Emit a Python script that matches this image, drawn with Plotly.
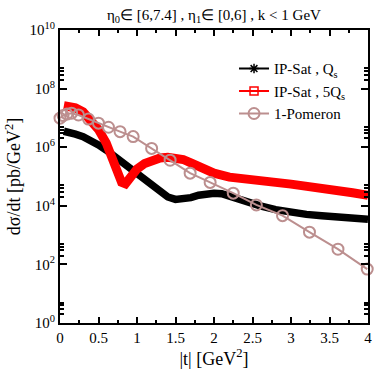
import plotly.graph_objects as go

# IP-Sat, Qs (black)
t_qs = [0.05, 0.1, 0.2, 0.3, 0.4, 0.5, 0.6, 0.7, 0.8, 0.9, 1.0, 1.1, 1.2, 1.3, 1.4, 1.5,
        1.6, 1.7, 1.8, 1.9, 2.0, 2.1, 2.2, 2.3, 2.4, 2.5, 2.6, 2.8, 3.0, 3.2, 3.4, 3.6, 3.8, 4.0]
y_qs = [3.5e6, 3.4e6, 2.8e6, 2.3e6, 1.75e6, 1.2e6, 8.0e5, 5.0e5, 3.2e5, 1.9e5, 1.1e5, 7.0e4,
        4.5e4, 2.8e4, 2.0e4, 1.65e4, 1.65e4, 1.9e4, 2.3e4, 2.6e4, 2.7e4, 2.6e4, 2.1e4, 1.65e4,
        1.35e4, 1.15e4, 1.0e4, 7.4e3, 5.9e3, 5.1e3, 4.6e3, 4.2e3, 3.8e3, 3.5e3]

# IP-Sat, 5Qs (red)
t_5qs = [0.05, 0.1, 0.2, 0.3, 0.4, 0.5, 0.6, 0.7, 0.75, 0.8, 0.85, 0.9, 1.0, 1.1, 1.2, 1.3,
         1.4, 1.5, 1.6, 1.7, 1.8, 1.9, 2.0, 2.2, 2.4, 2.6, 2.8, 3.0, 3.2, 3.4, 3.6, 3.8, 4.0]
y_5qs = [2.6e7, 2.6e7, 2.2e7, 1.6e7, 8.9e6, 4.0e6, 1.4e6, 3.5e5, 1.4e5, 6.3e4, 5.6e4, 8.9e4,
         1.8e5, 2.8e5, 3.7e5, 4.3e5, 4.5e5, 4.4e5, 3.8e5, 2.9e5, 2.1e5, 1.6e5, 1.3e5, 9.5e4,
         7.9e4, 7.1e4, 6.3e4, 5.5e4, 4.8e4, 4.1e4, 3.4e4, 2.8e4, 2.3e4]

# 1-Pomeron (brown circles)
t_pom = [0.0, 0.04, 0.09, 0.15, 0.24, 0.37, 0.50, 0.63, 0.78, 0.95, 1.19, 1.43, 1.69, 1.95,
         2.25, 2.55, 2.89, 3.24, 3.61, 3.99]
y_pom = [9.8e6, 1.2e7, 1.35e7, 1.45e7, 1.26e7, 9.1e6, 6.6e6, 4.8e6, 3.4e6, 2.3e6, 9.1e5,
         3.6e5, 1.3e5, 6.3e4, 2.7e4, 1.07e4, 4.6e3, 1.26e3, 3.3e2, 69]

x_ticks = [0, 0.5, 1, 1.5, 2, 2.5, 3, 3.5, 4]
x_ticktext = ["0", "0.5", "1", "1.5", "2", "2.5", "3", "3.5", "4"]
y_ticks = [1, 1e2, 1e4, 1e6, 1e8, 1e10]
y_ticktext = ["10<sup>0</sup>", "10<sup>2</sup>", "10<sup>4</sup>", "10<sup>6</sup>",
              "10<sup>8</sup>", "10<sup>10</sup>"]
y_minor = [m * 10 ** e for e in range(0, 10, 2) for m in (2, 3, 4, 5)]

names = ["IP-Sat , Q<sub>s</sub>", "IP-Sat , 5Q<sub>s</sub>", "1-Pomeron"]
RED = "#ff0000"
BROWN = "#bc8f8f"
FONT = "Liberation Serif, Times New Roman, serif"

fig = go.Figure()
fig.add_trace(go.Scatter(x=t_qs, y=y_qs, mode="lines", line=dict(color="black", width=7.5),
                         showlegend=False))
fig.add_trace(go.Scatter(x=t_5qs, y=y_5qs, mode="lines", line=dict(color=RED, width=9),
                         showlegend=False))
fig.add_trace(go.Scatter(x=t_pom, y=y_pom, mode="lines+markers", name=names[2],
                         line=dict(color=BROWN, width=2),
                         marker=dict(symbol="circle-open", size=11, color=BROWN,
                                     line=dict(width=2, color=BROWN)),
                         cliponaxis=False, showlegend=False))
# legend entries
fig.add_trace(go.Scatter(x=[None], y=[None], mode="lines+markers", name=names[0],
                         line=dict(color="black", width=2),
                         marker=dict(symbol="asterisk-open", size=8, color="black",
                                     line=dict(width=1.5, color="black"))))
fig.add_trace(go.Scatter(x=[None], y=[None], mode="lines+markers", name=names[1],
                         line=dict(color=RED, width=2),
                         marker=dict(symbol="square-open", size=8, color=RED,
                                     line=dict(width=1.5, color=RED))))
fig.add_trace(go.Scatter(x=[None], y=[None], mode="lines+markers", name=names[2],
                         line=dict(color=BROWN, width=2),
                         marker=dict(symbol="circle-open", size=11, color=BROWN,
                                     line=dict(width=2, color=BROWN))))

axis_common = dict(showline=True, linewidth=2, linecolor="black", mirror="allticks",
                   ticks="inside", tickcolor="black", tickwidth=2, showgrid=False,
                   zeroline=False, tickfont=dict(family=FONT, size=15, color="black"))

fig.update_layout(
    width=374, height=374,
    margin=dict(l=60, r=6, t=30, b=51, autoexpand=False),
    paper_bgcolor="white", plot_bgcolor="white",
    font=dict(family=FONT, color="black"),
    title=dict(text="η<sub>0</sub>∈ [6,7.4] , η<sub>1</sub>∈ [0,6] , k &lt; 1 GeV",
               x=0.572, xanchor="center", y=0.975, yanchor="top",
               font=dict(family=FONT, size=15, color="black")),
    xaxis=dict(range=[0, 4], tickmode="array", tickvals=x_ticks, ticktext=x_ticktext,
               ticklen=6, minor=dict(dtick=0.25, tick0=0, ticks="inside", ticklen=3,
                                     tickwidth=1.5, tickcolor="black"),
               title=dict(text="|t| [GeV<sup>2</sup>]", standoff=6,
                          font=dict(family=FONT, size=18, color="black")),
               **axis_common),
    yaxis=dict(type="log", range=[0, 10], tickmode="array", tickvals=y_ticks,
               ticktext=y_ticktext, ticklen=7,
               minor=dict(tickmode="array", tickvals=y_minor, ticks="inside", ticklen=4,
                          tickwidth=1.5, tickcolor="black"),
               title=dict(text="dσ/dt [pb/GeV<sup>2</sup>]", standoff=4,
                          font=dict(family=FONT, size=18, color="black")),
               **axis_common),
    legend=dict(x=0.565, y=0.924, xanchor="left", yanchor="top",
                bgcolor="rgba(0,0,0,0)", borderwidth=0,
                font=dict(family=FONT, size=15, color="black")),
)

fig.write_html("out.html", config={"displayModeBar": False},
               post_script="document.body.style.margin='0';document.body.style.padding='0';")
